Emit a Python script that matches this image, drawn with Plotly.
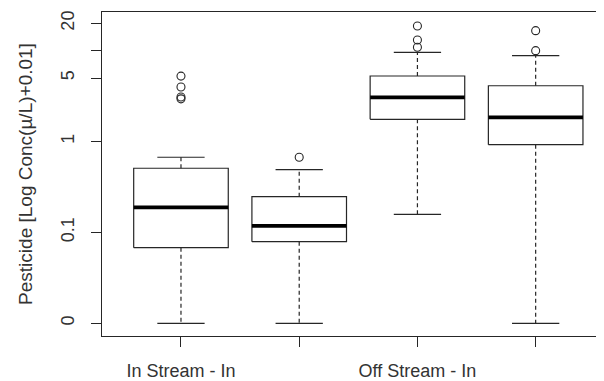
import plotly.graph_objects as go

# Box statistics, in log10 units of (concentration + 0.01)
positions = [1, 2, 3, 4]
tick_labels = ["In Stream - In", "", "Off Stream - In", ""]
lower_whisker = [-2.0, -2.0, -0.801, -2.0]
q1 = [-1.168, -1.102, 0.245, -0.035]
median = [-0.724, -0.929, 0.487, 0.267]
q3 = [-0.294, -0.607, 0.721, 0.614]
upper_whisker = [-0.173, -0.310, 0.982, 0.945]
outliers = [
    [0.72, 0.60, 0.49, 0.47],
    [-0.173],
    [1.271, 1.117, 1.037],
    [1.220, 1.0],
]

y_tick_vals = [-2.0, -1.0, 0.0, 0.69897, 1.0, 1.30103]
y_tick_text = ["0", "0.1", "1", "5", "", "20"]

BOX_W = 0.8
CAP_W = 0.4
LINE = "#262626"
FONT = "Liberation Sans, Arial, sans-serif"

fig = go.Figure()

bx, by, mx, my, wx, wy, cx, cy, ox, oy = [], [], [], [], [], [], [], [], [], []
for i, p in enumerate(positions):
    l, r = p - BOX_W / 2, p + BOX_W / 2
    bx += [l, r, r, l, l, None]
    by += [q1[i], q1[i], q3[i], q3[i], q1[i], None]
    mx += [l, r, None]
    my += [median[i], median[i], None]
    wx += [p, p, None, p, p, None]
    wy += [q3[i], upper_whisker[i], None, q1[i], lower_whisker[i], None]
    cl, cr = p - CAP_W / 2, p + CAP_W / 2
    cx += [cl, cr, None, cl, cr, None]
    cy += [upper_whisker[i], upper_whisker[i], None, lower_whisker[i], lower_whisker[i], None]
    for o in outliers[i]:
        ox.append(p)
        oy.append(o)

fig.add_trace(go.Scatter(x=wx, y=wy, mode="lines",
                         line=dict(color=LINE, width=1.2, dash="4px,3px"),
                         hoverinfo="skip"))
fig.add_trace(go.Scatter(x=cx, y=cy, mode="lines",
                         line=dict(color=LINE, width=1.2), hoverinfo="skip"))
fig.add_trace(go.Scatter(x=bx, y=by, mode="lines",
                         line=dict(color=LINE, width=1.2), hoverinfo="skip"))
fig.add_trace(go.Scatter(x=mx, y=my, mode="lines",
                         line=dict(color="black", width=3.8), hoverinfo="skip"))
fig.add_trace(go.Scatter(x=ox, y=oy, mode="markers",
                         marker=dict(symbol="circle-open", size=8,
                                     color=LINE, line=dict(width=1.1)),
                         hoverinfo="skip"))

# page body has an 8px default margin; figure is sized to fill the rest
fig.update_layout(
    width=596, height=373,
    margin=dict(l=94, r=0, t=4, b=45, autoexpand=False),
    paper_bgcolor="white", plot_bgcolor="white",
    showlegend=False,
    font=dict(family=FONT, size=18, color="#222"),
    xaxis=dict(
        range=[0.332, 4.578],
        tickmode="array", tickvals=positions, ticktext=tick_labels,
        showline=True, mirror=True, linecolor=LINE, linewidth=1.2,
        ticks="outside", ticklen=10, tickcolor=LINE, tickwidth=1.2,
        showgrid=False, zeroline=False, automargin=False,
        tickfont=dict(size=18, color="#333"),
        ticklabelstandoff=8,
    ),
    yaxis=dict(
        range=[-2.1397, 1.4254],
        tickmode="array", tickvals=y_tick_vals, ticktext=y_tick_text,
        showline=True, mirror=False, linecolor=LINE, linewidth=1.2,
        ticks="outside", ticklen=10, tickcolor=LINE, tickwidth=1.2,
        showgrid=False, zeroline=False, automargin=False,
        tickangle=-90,
        tickfont=dict(size=18, color="#333"),
        ticklabelstandoff=10,
        title=dict(text="Pesticide [Log Conc(µ/L)+0.01]",
                   font=dict(size=19, color="#333"), standoff=20),
    ),
)

fig.write_html("out.html")
